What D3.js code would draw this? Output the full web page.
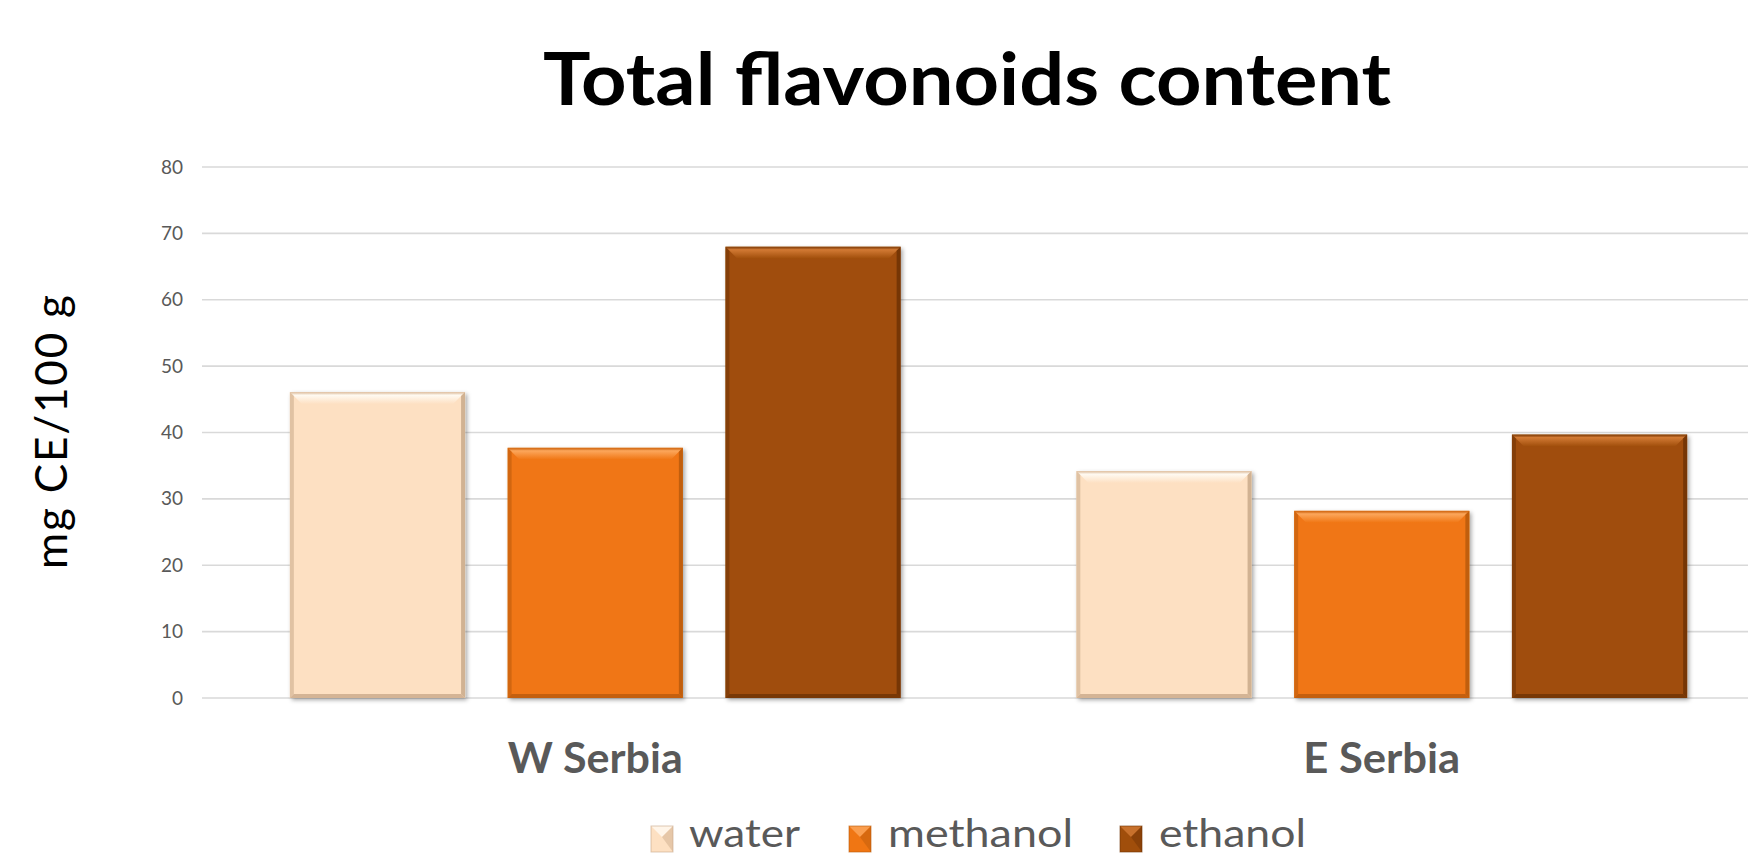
<!DOCTYPE html>
<html>
<head>
<meta charset="utf-8">
<script src="https://cdn.jsdelivr.net/npm/d3@7/dist/d3.min.js"></script>
<style>
  html, body { margin: 0; padding: 0; background: #ffffff; }
  svg { display: block; }
  text { font-family: Lato, "Open Sans", "Liberation Sans", sans-serif; }
</style>
</head>
<body>
<svg id="chart" width="1748" height="856"></svg>
<script>
// Total flavonoids content (mg CE/100 g) by region and extraction solvent
const categories = ["W Serbia", "E Serbia"];
const seriesNames = ["water", "methanol", "ethanol"];
const water = [46.1, 34.2];
const methanol = [37.7, 28.2];
const ethanol = [68.0, 39.7];
const yTicks = [0, 10, 20, 30, 40, 50, 60, 70, 80];

const seriesValues = { water, methanol, ethanol };
const colors = { water: "#fde0c2", methanol: "#f07613", ethanol: "#a04e0b" };
const lightTop = { water: "#fffaf2", methanol: "#fca75c", ethanol: "#d27a34" };
const darkEdge = { water: "#c9a98a", methanol: "#b95a0c", ethanol: "#6e3305" };

const W = 1748, H = 856;
const plot = { left: 202, right: 1775, top: 167, bottom: 698 };

const svg = d3.select("#chart");

// drop shadow used by bars
const defs = svg.append("defs");
const f = defs.append("filter").attr("id", "shadow")
  .attr("x", "-10%").attr("y", "-10%").attr("width", "130%").attr("height", "130%");
f.append("feDropShadow").attr("dx", 2).attr("dy", 2).attr("stdDeviation", 2)
  .attr("flood-color", "#000").attr("flood-opacity", 0.35);

const x0 = d3.scaleBand().domain(categories).range([plot.left, plot.right]).padding(0);
const x1 = d3.scaleBand().domain(seriesNames).range([0, x0.bandwidth()])
  .paddingInner(0.1954).paddingOuter(0.4034);
const y = d3.scaleLinear().domain([0, 80]).range([plot.bottom, plot.top]);

// gridlines
svg.append("g").selectAll("line").data(yTicks).join("line")
  .attr("x1", plot.left).attr("x2", W)
  .attr("y1", d => y(d)).attr("y2", d => y(d))
  .attr("stroke", "#d9d9d9").attr("stroke-width", 1.6);

// y tick labels
const yAxis = d3.axisLeft(y).tickValues(yTicks).tickSize(0).tickPadding(0);
const gy = svg.append("g").attr("transform", `translate(183,0)`).call(yAxis);
gy.select(".domain").remove();
gy.selectAll("text")
  .attr("fill", "#595959")
  .style("font-size", "19px")
  .style("font-family", "Lato, 'Open Sans', sans-serif");

// beveled bar
function bevelBar(g, x, yTop, w, h, key) {
  const b = 12, s = 4, bb = 4;
  const x2 = x + w, yB = yTop + h;
  g.append("rect").attr("x", x).attr("y", yTop).attr("width", w).attr("height", h)
    .attr("fill", colors[key]).attr("filter", "url(#shadow)");
  const grad = "g-" + key;
  // top bevel
  g.append("polygon")
    .attr("points", [[x, yTop], [x2, yTop], [x2 - b, yTop + b], [x + b, yTop + b]].join(" "))
    .attr("fill", `url(#${grad})`);
  // left bevel
  g.append("polygon")
    .attr("points", [[x, yTop], [x + s, yTop + s], [x + s, yB - bb], [x, yB]].join(" "))
    .attr("fill", darkEdge[key]).attr("opacity", 0.55);
  // right bevel
  g.append("polygon")
    .attr("points", [[x2, yTop], [x2 - s, yTop + s], [x2 - s, yB - bb], [x2, yB]].join(" "))
    .attr("fill", darkEdge[key]).attr("opacity", 0.85);
  // bottom bevel
  g.append("polygon")
    .attr("points", [[x, yB], [x + s, yB - bb], [x2 - s, yB - bb], [x2, yB]].join(" "))
    .attr("fill", darkEdge[key]).attr("opacity", 0.8);
}

seriesNames.forEach(k => {
  const lg = defs.append("linearGradient").attr("id", "g-" + k)
    .attr("x1", 0).attr("y1", 0).attr("x2", 0).attr("y2", 1);
  lg.append("stop").attr("offset", "0%").attr("stop-color", darkEdge[k]).attr("stop-opacity", 0.5);
  lg.append("stop").attr("offset", "25%").attr("stop-color", lightTop[k]);
  lg.append("stop").attr("offset", "100%").attr("stop-color", colors[k]);
});

const barsG = svg.append("g");
categories.forEach((c, i) => {
  seriesNames.forEach(k => {
    const v = seriesValues[k][i];
    const bx = x0(c) + x1(k);
    bevelBar(barsG.append("g"), bx, y(v), x1.bandwidth(), y(0) - y(v), k);
  });
});

function fit(sel, target, mode) {
  const len = sel.node().getComputedTextLength();
  if (Math.abs(len - target) > 2) sel.attr("textLength", target).attr("lengthAdjust", mode || "spacingAndGlyphs");
}

// category labels
categories.forEach((c, i) => {
  const t = svg.append("text")
    .attr("x", x0(c) + x0.bandwidth() / 2).attr("y", 773)
    .attr("text-anchor", "middle")
    .attr("fill", "#595959").style("font-size", "42px").style("font-weight", 700)
    .text(c);
  fit(t, i === 0 ? 175 : 157);
});

// title
const title = svg.append("text")
  .attr("x", 967).attr("y", 105).attr("text-anchor", "middle")
  .attr("fill", "#000").style("font-size", "72px").style("font-weight", 700)
  .text("Total flavonoids content");
fit(title, 848);

// y axis title
const yt = svg.append("text")
  .attr("transform", `translate(67,432) rotate(-90)`)
  .attr("text-anchor", "middle").attr("fill", "#000")
  .style("font-size", "44px").style("font-weight", 400)
  .text("mg CE/100 g");
fit(yt, 274, "spacing");

// legend
const legendPos = [
  { key: "water", sx: 651, tx: 689, tw: 111 },
  { key: "methanol", sx: 849, tx: 888, tw: 185 },
  { key: "ethanol", sx: 1120, tx: 1159, tw: 147 }
];
const legG = svg.append("g");
legendPos.forEach(p => {
  const g = legG.append("g");
  const s = 22, top = 826, h = 26;
  g.append("rect").attr("x", p.sx).attr("y", top).attr("width", s).attr("height", h)
    .attr("fill", colors[p.key]);
  g.append("polygon").attr("points", [[p.sx, top], [p.sx + s, top], [p.sx + s / 2, top + s / 2]].join(" "))
    .attr("fill", lightTop[p.key]).attr("opacity", 0.8);
  g.append("polygon").attr("points", [[p.sx + s, top], [p.sx + s, top + h], [p.sx + s / 2, top + s / 2]].join(" "))
    .attr("fill", darkEdge[p.key]).attr("opacity", 0.45);
  g.append("rect").attr("x", p.sx).attr("y", top).attr("width", s).attr("height", h)
    .attr("fill", "none").attr("stroke", darkEdge[p.key]).attr("stroke-width", 1).attr("opacity", 0.6);
  const t = g.append("text").attr("x", p.tx).attr("y", 847)
    .attr("fill", "#595959").style("font-size", "38px")
    .text(p.key);
  fit(t, p.tw);
});
</script>
</body>
</html>
